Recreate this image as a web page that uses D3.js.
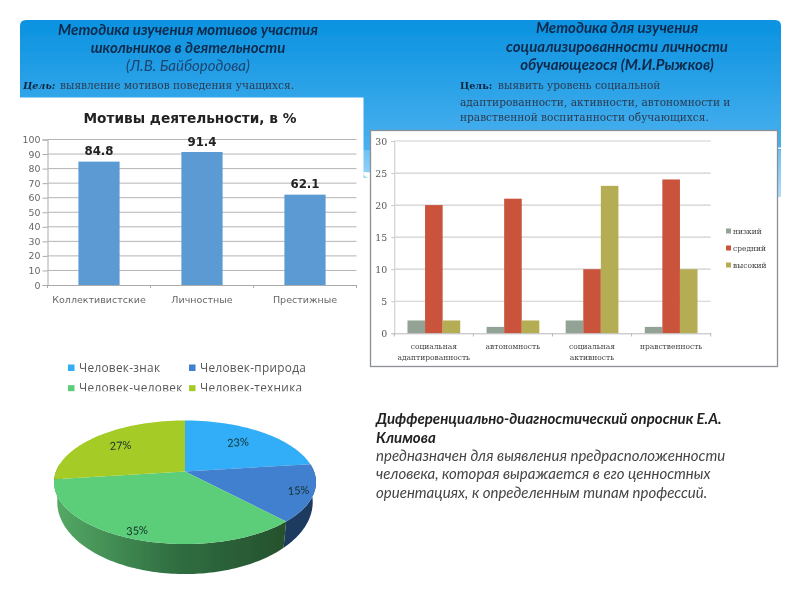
<!DOCTYPE html>
<html><head><meta charset="utf-8">
<script src="https://cdn.jsdelivr.net/npm/d3@7"></script>
<style>html,body{margin:0;padding:0;background:#fff}svg{display:block}</style>
</head><body><svg id="c" width="800" height="600"></svg>
<script>
const motiveCats = ["Коллективистские","Личностные","Престижные"];
const motiveVals = [84.8,91.4,62.1];
const motiveTicks = [0,10,20,30,40,50,60,70,80,90,100];
const socCats = ["социальная\nадаптированность","автономность","социальная\nактивность","нравственность"];
const socLow = [2,1,2,1];
const socMid = [20,21,10,24];
const socHigh = [2,2,23,10];
const socSeries = ["низкий","средний","высокий"];
const socColors = ["#92a294","#c9523b","#b5ad52"];
const socTicks = [0,5,10,15,20,25,30];
const pieNames = ["Человек-знак","Человек-природа","Человек-человек","Человек-техника"];
const pieVals = [23,15,35,27];
const pieColors = ["#31aef8","#4180cf","#5bcd78","#a5cb25"];
const pieWalls = ["#1d6fa8","#1a3a5e","url(#wallG)","#6d8a18"];

const svg = d3.select("#c");
const defs = svg.append("defs");
const f = defs.append("filter").attr("id","soft").attr("x",0).attr("y",0).attr("width",1).attr("height",1);
f.append("feGaussianBlur").attr("stdDeviation",0.5);
function grad(id,x1,y1,x2,y2,stops,units){
  const g=defs.append("linearGradient").attr("id",id).attr("x1",x1).attr("y1",y1).attr("x2",x2).attr("y2",y2);
  if(units) g.attr("gradientUnits",units);
  stops.forEach(s=>g.append("stop").attr("offset",s[0]).attr("stop-color",s[1]));
}
grad("panelG",0,0,0,1,[[0,"#0a92e0"],[1,"#4ab1ef"]]);
grad("waveG",0,0,0,1,[[0,"#6fc2f3"],[1,"#b2defa"]]);
grad("wallG",54,0,290,0,[[0,"#55aa66"],[0.5,"#306f42"],[1,"#25502c"]],"userSpaceOnUse");
defs.append("clipPath").attr("id","legClip").append("rect").attr("x",0).attr("y",350).attr("width",340).attr("height",41.3);

const root = svg.append("g").attr("filter","url(#soft)");
root.append("rect").attr("width",800).attr("height",600).attr("fill","#fff");

// backdrop
root.append("path").attr("d","M20 150H781V197H772L363 172Q364 178 370 178H363V150Z").attr("fill","url(#waveG)");
root.append("path").attr("d","M20 150V26Q20 20 26 20H775Q781 20 781 26V150Z").attr("fill","url(#panelG)");
root.append("rect").attr("x",777).attr("y",147.5).attr("width",4).attr("height",1.5).attr("fill","#fff");
root.append("rect").attr("x",20).attr("y",97.5).attr("width",343.5).attr("height",240).attr("fill","#fff");

// heading text
const headF = "Lato, 'Open Sans', sans-serif";
const serif = "'DejaVu Serif', serif";
function txt(x,y,s,o){
  const t=root.append("text").attr("x",x).attr("y",y).text(s)
    .attr("font-family",o.ff||headF).attr("font-size",o.fs||13).attr("fill",o.c||"#0f2a4a")
    .attr("text-anchor",o.a||"start").attr("font-weight",o.w||"normal").attr("font-style",o.i?"italic":"normal");
  if(o.ls) t.attr("letter-spacing",o.ls);
  return t;
}
const hb={a:"middle",w:"bold",i:true,fs:15,c:"#0e2a4c"};
txt(188,34.5,"Методика изучения мотивов участия",hb);
txt(188,52.5,"школьников в деятельности",hb);
txt(188,71,"(Л.В. Байбородова)",{a:"middle",i:true,fs:15,c:"#1d4470"});
txt(617,33,"Методика для изучения",hb);
txt(617,51.5,"социализированности личности",hb);
txt(617,70,"обучающегося (М.И.Рыжков)",hb);
const goalF={ff:serif,fs:10.6,c:"#2a3a50"};
txt(23,89,"Цель:",{ff:serif,fs:9.6,w:"bold",i:true,c:"#10243c"});
txt(60,89,"выявление мотивов поведения учащихся.",goalF);
txt(460,89,"Цель:",{ff:serif,fs:9.6,w:"bold",c:"#10243c"});
txt(498,89,"выявить уровень социальной",goalF);
txt(460,106,"адаптированности, активности, автономности и",goalF);
txt(460,121,"нравственной воспитанности обучающихся.",goalF);

// bar chart 1
const sans="'DejaVu Sans', sans-serif";
const x1=d3.scaleBand().domain(motiveCats).range([47.5,356.5]).paddingInner(0.6).paddingOuter(0.3);
const y1=d3.scaleLinear().domain([0,100]).range([285,139.5]);
txt(190,123,"Мотивы деятельности, в %",{ff:sans,w:"bold",fs:13.7,a:"middle",c:"#222"});
const gy1=root.append("g").attr("transform","translate(47.5,0)")
  .call(d3.axisLeft(y1).tickValues(motiveTicks).tickSize(5).tickPadding(2));
gy1.selectAll("text").attr("font-family",sans).attr("font-size",9.4).attr("fill","#666");
gy1.selectAll("line").attr("stroke","#aaa");
gy1.select(".domain").attr("stroke","#aaa");
root.append("g").selectAll("line").data(motiveTicks.slice(1)).join("line")
  .attr("x1",47.5).attr("x2",356.5).attr("y1",d=>y1(d)).attr("y2",d=>y1(d)).attr("stroke","#b4b4b4");
root.append("g").selectAll("rect").data(motiveVals).join("rect")
  .attr("x",(d,i)=>x1(motiveCats[i])).attr("width",x1.bandwidth())
  .attr("y",d=>y1(d)).attr("height",d=>y1(0)-y1(d)).attr("fill","#5b9ad4");
root.append("g").selectAll("text").data(motiveVals).join("text")
  .attr("x",(d,i)=>x1(motiveCats[i])+x1.bandwidth()/2).attr("y",d=>y1(d)-6.5)
  .attr("text-anchor","middle").attr("font-family",sans).attr("font-weight","bold").attr("font-size",11.8).attr("fill","#222")
  .text(d=>d.toFixed(1));
const gx1=root.append("g").attr("transform","translate(0,285)").call(d3.axisBottom(x1).tickSize(0).tickPadding(11));
gx1.selectAll("text").attr("font-family",sans).attr("font-size",9.5).attr("fill","#666");
gx1.select(".domain").attr("stroke","#aaa");
root.append("g").selectAll("line").data(d3.range(motiveCats.length+1)).join("line")
  .attr("x1",d=>47.5+d*x1.step()).attr("x2",d=>47.5+d*x1.step()).attr("y1",285).attr("y2",288).attr("stroke","#aaa");

// bar chart 2
root.append("rect").attr("x",370.5).attr("y",130.5).attr("width",407).attr("height",236)
  .attr("fill","#fff").attr("stroke","#8a9095").attr("stroke-width",1.3);
const x2=d3.scaleBand().domain(socCats).range([394.3,710.7]).paddingInner(1/3).paddingOuter(1/6);
const sx=d3.scaleBand().domain(socSeries).range([0,x2.bandwidth()]);
const y2=d3.scaleLinear().domain([0,30]).range([333.3,141]);
const gy2=root.append("g").attr("transform","translate(394.3,0)")
  .call(d3.axisLeft(y2).tickValues(socTicks).tickSize(3).tickPadding(4));
gy2.selectAll("text").attr("font-family",serif).attr("font-size",9.4).attr("fill","#555");
gy2.selectAll("line").attr("stroke","#c8c8c8");
gy2.select(".domain").attr("stroke","#c8c8c8");
root.append("g").selectAll("line").data(socTicks.slice(1)).join("line")
  .attr("x1",394.3).attr("x2",710.7).attr("y1",d=>y2(d)).attr("y2",d=>y2(d)).attr("stroke","#cfcfcf").attr("stroke-width",1.2);
[socLow,socMid,socHigh].forEach((vals,si)=>{
  root.append("g").selectAll("rect").data(vals).join("rect")
    .attr("x",(d,i)=>x2(socCats[i])+sx(socSeries[si])).attr("width",sx.bandwidth())
    .attr("y",d=>y2(d)).attr("height",d=>y2(0)-y2(d)).attr("fill",socColors[si]);
});
const gx2=root.append("g").attr("transform","translate(0,333.3)").call(d3.axisBottom(x2).tickSize(0).tickFormat(""));
gx2.select(".domain").attr("stroke","#b8b8b8");
root.append("g").selectAll("line").data(d3.range(socCats.length+1)).join("line")
  .attr("x1",d=>394.3+d*x2.step()).attr("x2",d=>394.3+d*x2.step()).attr("y1",333.3).attr("y2",336.5).attr("stroke","#b8b8b8");
socCats.forEach(c=>{
  c.split("\n").forEach((ln,j)=>{
    txt(x2(c)+x2.bandwidth()/2,349+j*11,ln,{ff:serif,fs:7.5,a:"middle",c:"#444"});
  });
});
socSeries.forEach((s,i)=>{
  const ly=231+i*17;
  root.append("rect").attr("x",726).attr("y",ly-2.5).attr("width",5).attr("height",5).attr("fill",socColors[i]);
  txt(733,ly+2.5,s,{ff:serif,fs:7.5,c:"#444"});
});

// 3D pie
const cx=185, cy=471.5, a=129, b=59.9, p=0.174;
function rim(theta,r){
  const X=Math.sin(theta)*r, Y=-Math.cos(theta)*r, s=1/(1-p*Y);
  return [cx+a*X*s, cy+b*Y*s];
}
function low(theta){
  const q=rim(theta,1);
  return [cx+(q[0]-cx)*0.975, cy+(q[1]-cy)*1.166+18];
}
const arcs=d3.pie().sort(null)(pieVals);
const ln=d3.line();
function samples(t0,t1){const n=Math.max(2,Math.ceil((t1-t0)/0.02));return d3.range(n+1).map(i=>t0+(t1-t0)*i/n);}
const HALF=Math.PI/2;
arcs.forEach((d,i)=>{
  const t0=Math.max(d.startAngle,HALF*0.92), t1=Math.min(d.endAngle,HALF*3.08);
  if(t1<=t0) return;
  const ts=samples(t0,t1);
  const pts=ts.map(t=>rim(t,1)).concat(ts.slice().reverse().map(low));
  root.append("path").attr("d",ln(pts)+"Z").attr("fill",pieWalls[i]);
});
arcs.forEach((d,i)=>{
  const pts=[[cx,cy]].concat(samples(d.startAngle,d.endAngle).map(t=>rim(t,1)));
  root.append("path").attr("d",ln(pts)+"Z").attr("fill",pieColors[i]);
});
arcs.forEach((d,i)=>{
  const m=(d.startAngle+d.endAngle)/2, r=Math.cos(m)>0?0.7:0.9, q=rim(m,r);
  root.append("text").attr("transform",`translate(${q[0]-1.5},${q[1]+3.5}) rotate(-4)`)
    .attr("text-anchor","middle").attr("font-family",headF).attr("font-size",11).attr("fill","#14302c")
    .text(pieVals[i]+"%");
});
// pie legend
const leg=root.append("g").attr("clip-path","url(#legClip)");
pieNames.forEach((n,i)=>{
  const col=i%2,row=i>>1, lx=68+col*121, ly=367.5+row*20.7;
  leg.append("rect").attr("x",lx).attr("y",ly-3).attr("width",6.5).attr("height",6.5).attr("fill",pieColors[i]);
  leg.append("text").attr("x",lx+11).attr("y",ly+4).text(n)
    .attr("font-family","'Open Sans', sans-serif").attr("font-size",11.8).attr("fill","#555").attr("letter-spacing",0.3);
});

// description
const db={w:"bold",i:true,fs:15,c:"#222"}, dn={i:true,fs:15,c:"#444"};
txt(376,424,"Дифференциально-диагностический опросник Е.А.",db);
txt(376,442.5,"Климова",db);
txt(376,461,"предназначен для выявления предрасположенности",dn);
txt(376,479,"человека, которая выражается в его ценностных",dn);
txt(376,498,"ориентациях, к определенным типам профессий.",dn);
</script></body></html>
